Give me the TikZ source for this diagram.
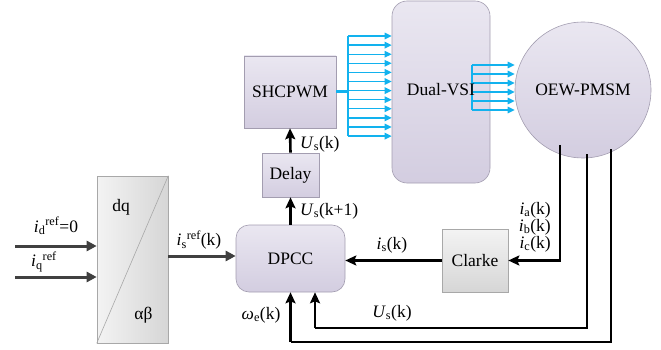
\documentclass[tikz,border=0pt]{standalone}
\usepackage{fontspec}
\setmainfont{Liberation Serif}[Ligatures=TeX]
\newfontfamily\tnr{Liberation Serif}
\usetikzlibrary{arrows.meta,calc}
\definecolor{lavt}{HTML}{EAE7F1}
\definecolor{lavb}{HTML}{D3CDE0}
\definecolor{lavd}{HTML}{A39DB0}
\definecolor{grt}{HTML}{F3F3F3}
\definecolor{grb}{HTML}{D6D6D6}
\definecolor{grd}{HTML}{A8A8A8}
\definecolor{cyn}{HTML}{12B2EE}
\definecolor{darkg}{HTML}{404040}
\begin{document}
\begin{tikzpicture}[x=1pt,y=-1pt,
  font=\tnr\fontsize{17.5}{21}\selectfont,
  lav/.style={draw=lavd, line width=0.6pt, top color=lavt, bottom color=lavb, inner sep=0pt},
  gry/.style={draw=grd, line width=0.6pt, top color=grt, bottom color=grb, inner sep=0pt},
  blk/.style={line width=2.6pt, -{Stealth[length=11pt,width=10pt,inset=2pt]}},
  blkl/.style={line width=2.6pt},
  garr/.style={darkg, line width=3pt, -{Triangle[length=10pt,width=10pt]}},
  cyarr/.style={cyn, line width=1.3pt, -{Triangle[length=7pt,width=6.5pt]}},
  lbl/.style={inner sep=0pt}]
\useasboundingbox (0,0) rectangle (661,350);

% blocks
\node[lav, rounded corners=15pt, minimum width=98pt, minimum height=182pt] (vsi) at (441,92) {};
\node[lav, circle, minimum size=136pt] (motor) at (583,90) {OEW-PMSM};
\node[lav, minimum width=92pt, minimum height=72pt] (shc) at (290,92) {SHCPWM};
\node[lav, minimum width=57pt, minimum height=44pt] (delay) at (290.5,175) {Delay};
\node[lav, rounded corners=13pt, minimum width=109pt, minimum height=67pt] (dpcc) at (290.5,258.5) {DPCC};
\node[gry, shading angle=90, left color=grt, right color=grb, minimum width=71pt, minimum height=167pt] (dq) at (132.5,259.5) {};
\draw[grd, line width=0.6pt] (dq.south west) -- (dq.north east);
\node[lbl] (dqt) at (121,207) {dq};
\node[lbl] (abt) at (143.5,315) {αβ};
\node[gry, minimum width=66pt, minimum height=63pt] (clarke) at (475,260.5) {Clarke};

% cyan switching signals
\foreach \k in {0,...,11} {
  \coordinate (b\k) at (348,{36+9.1*\k});
  \draw[cyarr] (b\k) -- (b\k -| vsi.west);
}
\draw[cyn, line width=2pt] (b0) -- (b11);
\draw[cyn, line width=3pt] (shc.east) -- (shc.east -| b0);
\foreach \k in {0,...,5} {
  \coordinate (r\k) at (472,{65+9*\k});
  \draw[cyarr] (r\k) -- (r\k -| motor.west);
}
\draw[cyn, line width=1.5pt] (r0) -- (r5);
\node[lbl] (vsit) at (441,90) {Dual-VSI};

% vertical chain
\draw[blk] (delay.north) -- (shc.south);
\node[lbl, anchor=west] (usk1) at (300,144) {\textit{U}\textsubscript{s}(k)};
\draw[blk] (dpcc.north) -- (delay.south);
\node[lbl, anchor=west] (usk2) at (300,211) {\textit{U}\textsubscript{s}(k+1)};

% references
\coordinate (in1) at (15,246);
\coordinate (in2) at (15,277);
\draw[garr] (in1) -- (in1 -| dq.west);
\draw[garr] (in2) -- (in2 -| dq.west);
\node[lbl] (idref) at (56,226) {\textit{i}\textsubscript{d}\textsuperscript{ref}=0};
\node[lbl] (iqref) at (44,262) {\textit{i}\textsubscript{q}\textsuperscript{ref}};
\coordinate (dqo) at (dq.east |- 0,256);
\draw[garr] (dqo) -- (dqo -| dpcc.west);
\node[lbl] (isref) at (199,240) {\textit{i}\textsubscript{s}\textsuperscript{ref}(k)};

% feedback
\coordinate (m1) at (560,145);
\coordinate (m2) at (587,154);
\coordinate (m3) at (611,149);
\draw[blk] (m1) |- (clarke.east);
\node[lbl, anchor=east] (ia) at (551,210) {\textit{i}\textsubscript{a}(k)};
\node[lbl, anchor=east] (ib) at (551,227) {\textit{i}\textsubscript{b}(k)};
\node[lbl, anchor=east] (ic) at (551,244) {\textit{i}\textsubscript{c}(k)};
\draw[blk] (clarke.west) -- (clarke.west -| dpcc.east);
\node[lbl] (is) at (392,245) {\textit{i}\textsubscript{s}(k)};
\coordinate (c2) at (315,328);
\coordinate (c3) at (290.5,342);
\draw[blkl] (m2) |- (c2);
\draw[blk] (c2) -- (c2 |- dpcc.south);
\draw[blkl] (m3) |- (c3);
\draw[blk] (c3) -- (c3 |- dpcc.south);
\node[lbl] (usb) at (392,313) {\textit{U}\textsubscript{s}(k)};
\node[lbl] (we) at (261,315) {\textit{ω}\textsubscript{e}(k)};
\end{tikzpicture}
\end{document}
